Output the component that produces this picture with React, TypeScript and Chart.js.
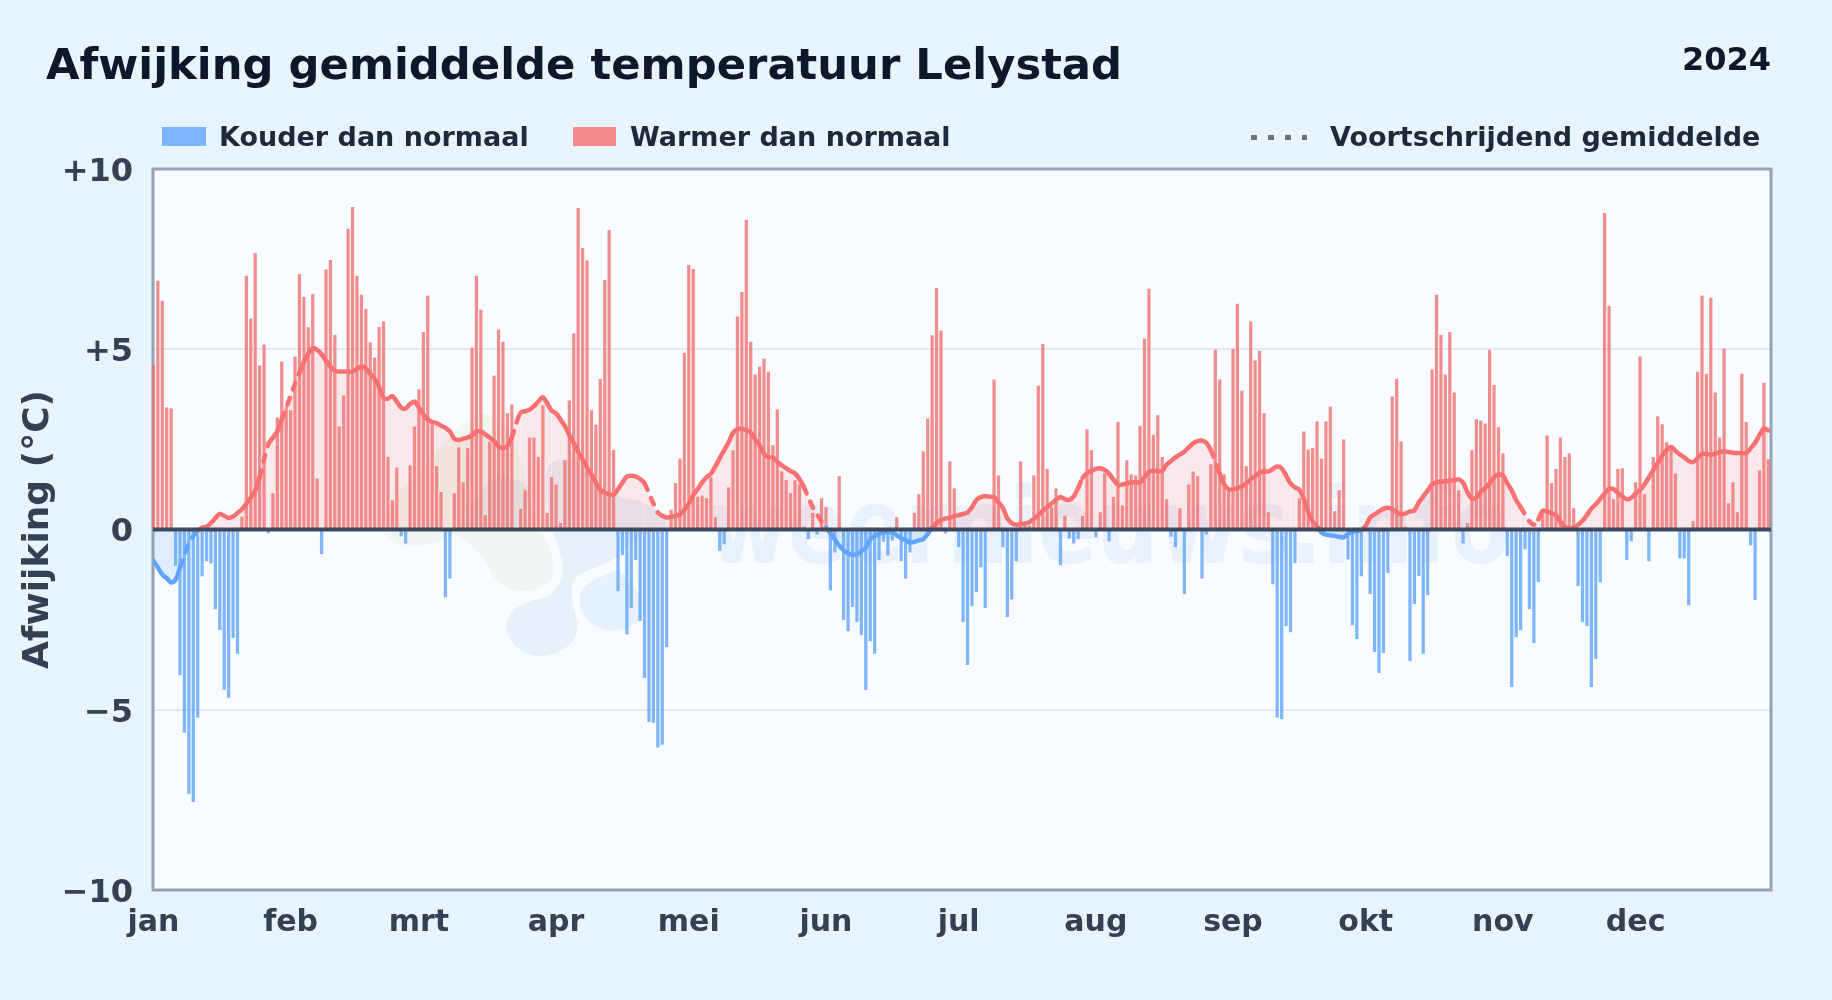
import React, { useEffect, useRef } from "react";
import { Chart, registerables } from "chart.js";

Chart.register(...registerables);

const monthNames = ["jan", "feb", "mrt", "apr", "mei", "jun", "jul", "aug", "sep", "okt", "nov", "dec"];
const monthStarts = [0, 31, 60, 91, 121, 152, 182, 213, 244, 274, 305, 335];
const yTickLabels: Record<number, string> = { [-10]: "−10", [-5]: "−5", 0: "0", 5: "+5", 10: "+10" };

const deviation = [
  4.56, 6.89, 6.34, 3.38, 3.35, -1.0, -4.03, -5.63, -7.32, -7.55,
  -5.21, -1.29, -0.87, -0.93, -2.2, -2.78, -4.44, -4.66, -3.0, -3.44,
  0.35, 7.03, 5.84, 7.66, 4.54, 5.12, -0.1, 1.0, 3.1, 4.65,
  3.4, 3.3, 4.79, 7.08, 6.44, 5.6, 6.52, 1.4, -0.67, 7.2,
  7.47, 5.39, 2.85, 3.71, 8.33, 8.94, 7.03, 6.5, 6.11, 5.18,
  4.76, 5.61, 5.76, 2.0, 0.8, 1.71, -0.18, -0.38, 1.77, 2.85,
  3.88, 5.47, 6.48, 2.9, 1.75, 1.03, -1.87, -1.35, 1.0, 2.27,
  1.3, 2.25, 5.04, 7.03, 6.09, 0.39, 2.43, 4.26, 5.53, 5.2,
  3.22, 3.46, 0, 0.56, 1.08, 2.54, 2.54, 2.0, 3.44, 0.45,
  1.44, 1.24, 0.17, 1.91, 3.57, 5.43, 8.91, 7.8, 7.45, 3.3,
  2.9, 4.17, 6.91, 8.3, 2.2, -1.7, -0.7, -2.9, -2.17, -0.84,
  -2.53, -4.11, -5.33, -5.35, -6.04, -5.96, -3.25, 0.54, 1.28, 1.96,
  4.89, 7.33, 7.22, 0.9, 0.93, 0.86, 1.44, 0.33, -0.58, -0.4,
  1.16, 2.19, 5.9, 6.58, 8.58, 5.2, 4.29, 4.51, 4.73, 4.37,
  2.33, 3.32, 1.6, 1.36, 1.0, 1.36, 1.25, 0.07, -0.26, 0.45,
  -0.13, 0.86, 0.61, -1.68, -0.63, 1.47, -2.5, -2.81, -2.14, -2.56,
  -2.92, -4.44, -3.09, -3.44, -0.84, -0.33, -0.71, -0.3, 0.33, -0.87,
  -1.35, -0.63, 0.45, 0.97, 2.16, 3.07, 5.38, 6.69, 5.51, -0.1,
  1.88, 1.13, -0.48, -2.56, -3.75, -2.12, -1.73, -1.04, -2.17, 0,
  4.15, 1.49, -0.48, -2.42, -1.93, -0.87, 1.88, 0.1, 0.1, 1.49,
  3.98, 5.14, 1.67, 0.61, 1.13, -0.98, 0.37, -0.24, -0.38, -0.26,
  0.37, 2.77, 2.19, -0.21, 0.47, 1.55, -0.32, 0.89, 2.97, 0.66,
  1.91, 1.52, 1.49, 2.87, 5.28, 6.67, 2.62, 3.16, 2.0, 0.83,
  -0.19, -0.48, 0.58, -1.78, 1.24, 1.6, 1.47, -1.35, -0.13, 1.8,
  4.98, 4.15, 1.52, 1.13, 5.0, 6.25, 3.84, 1.75, 5.76, 4.68,
  4.95, 3.22, 0.47, -1.51, -5.21, -5.25, -2.67, -2.84, -0.92, 0.86,
  2.71, 2.21, 2.25, 2.99, 1.96, 2.99, 3.4, 0.5, 1.08, 2.49,
  -0.82, -2.65, -3.03, -1.29, 0, -1.78, -3.39, -3.97, -3.42, -1.2,
  3.68, 4.17, 2.43, 0.07, -3.64, -2.06, -1.28, -3.44, -1.81, 4.43,
  6.5, 5.39, 4.29, 5.47, 3.79, 1.08, -0.38, 0.17, 2.19, 3.05,
  3.01, 2.93, 4.98, 4.0, 2.83, 2.1, -0.73, -4.36, -2.98, -2.78,
  -0.54, -2.2, -3.14, -1.45, 0.43, 2.6, 1.28, 1.67, 2.54, 2.0,
  2.1, 0.58, -1.56, -2.56, -2.67, -4.36, -3.58, -1.45, 8.77, 6.19,
  0.83, 1.67, 1.69, -0.84, -0.32, 1.3, 4.79, 0.97, -0.87, 2.0,
  3.13, 2.91, 2.41, 2.29, 1.55, -0.79, -0.79, -2.09, 0.22, 4.37,
  6.48, 4.31, 6.42, 3.79, 2.54, 5.01, 0.72, 1.3, 0.47, 4.31,
  2.97, -0.43, -1.95, 1.63, 4.06, 1.94,
];

const movingAverage = [
  -0.87, -1.05, -1.25, -1.35, -1.47, -1.4, -1.05, -0.7, -0.4, -0.18,
  -0.03, 0.05, 0.08, 0.18, 0.32, 0.43, 0.38, 0.32, 0.36, 0.46,
  0.56, 0.72, 0.88, 1.08, 1.45, 1.95, 2.38, 2.55, 2.72, 3.05,
  3.38, 3.7, 4.05, 4.35, 4.65, 4.88, 5.03, 4.98, 4.86, 4.68,
  4.52, 4.4, 4.38, 4.38, 4.38, 4.38, 4.45, 4.52, 4.47, 4.32,
  4.18, 3.95, 3.65, 3.63, 3.7, 3.55, 3.38, 3.36, 3.48, 3.55,
  3.38, 3.2, 3.05, 2.98, 2.95, 2.88, 2.82, 2.72, 2.52, 2.48,
  2.52, 2.55, 2.62, 2.72, 2.72, 2.64, 2.55, 2.45, 2.3, 2.26,
  2.32, 2.55, 2.95, 3.24, 3.28, 3.32, 3.42, 3.55, 3.67, 3.5,
  3.3, 3.22, 3.05, 2.87, 2.62, 2.4, 2.15, 1.95, 1.72, 1.52,
  1.3, 1.1, 1.02, 0.98, 0.96, 1.12, 1.3, 1.47, 1.49, 1.47,
  1.4, 1.28, 1.0, 0.72, 0.47, 0.38, 0.33, 0.35, 0.38, 0.42,
  0.55, 0.72, 0.95, 1.12, 1.3, 1.45, 1.55, 1.75, 1.98, 2.2,
  2.42, 2.68, 2.78, 2.79, 2.76, 2.69, 2.5, 2.34, 2.1, 2.0,
  2.0, 1.88, 1.78, 1.7, 1.62, 1.56, 1.4, 1.18, 0.9, 0.62,
  0.42, 0.22, 0.05, -0.1, -0.27, -0.45, -0.58, -0.66, -0.7, -0.68,
  -0.6, -0.5, -0.28, -0.18, -0.12, -0.08, -0.08, -0.08, -0.16, -0.24,
  -0.3, -0.37, -0.34, -0.3, -0.27, -0.12, 0.05, 0.18, 0.26, 0.3,
  0.33, 0.37, 0.4, 0.43, 0.47, 0.62, 0.82, 0.9, 0.92, 0.91,
  0.9, 0.75, 0.6, 0.31, 0.18, 0.13, 0.15, 0.17, 0.2, 0.3,
  0.4, 0.52, 0.62, 0.72, 0.82, 0.9, 0.84, 0.82, 0.92, 1.15,
  1.43, 1.56, 1.63, 1.68, 1.7, 1.65, 1.55, 1.38, 1.24, 1.25,
  1.28, 1.31, 1.31, 1.31, 1.45, 1.6, 1.63, 1.62, 1.62, 1.8,
  1.9, 2.0, 2.08, 2.16, 2.28, 2.39, 2.45, 2.47, 2.4, 2.2,
  1.9, 1.55, 1.25, 1.12, 1.11, 1.15, 1.2, 1.28, 1.4, 1.48,
  1.58, 1.61, 1.61, 1.68, 1.75, 1.7, 1.5, 1.28, 1.17, 1.1,
  0.85, 0.48, 0.22, 0.1, -0.08, -0.14, -0.16, -0.18, -0.2, -0.22,
  -0.12, -0.07, -0.04, -0.02, 0.1, 0.33, 0.42, 0.5, 0.57, 0.6,
  0.56, 0.48, 0.41, 0.45, 0.5, 0.53, 0.75, 0.92, 1.08, 1.25,
  1.31, 1.33, 1.33, 1.35, 1.37, 1.39, 1.3, 1.03, 0.86, 0.88,
  1.05, 1.15, 1.28, 1.45, 1.53, 1.5, 1.28, 1.08, 0.82, 0.62,
  0.42, 0.23, 0.13, 0.28, 0.52, 0.5, 0.45, 0.4, 0.22, 0.08,
  0.03, 0.05, 0.13, 0.24, 0.4, 0.58, 0.7, 0.85, 1.0, 1.13,
  1.12, 1.02, 0.92, 0.84, 0.88, 1.0, 1.1, 1.25, 1.45, 1.65,
  1.85, 2.05, 2.2, 2.29, 2.18, 2.08, 2.0, 1.9, 1.87, 1.98,
  2.09, 2.1, 2.07, 2.1, 2.15, 2.17, 2.15, 2.13, 2.12, 2.12,
  2.12, 2.25, 2.4, 2.62, 2.8, 2.75,
];

const dashedDays = [
  [6, 10], [24, 26], [29, 33], [81, 83], [89, 90], [111, 114], [147, 152],
  [209, 210], [239, 241], [256, 257], [286, 287], [309, 313], [362, 363],
];

const colder = deviation.map((v, i) => ({ x: i, y: v < 0 ? v : null }));
const warmer = deviation.map((v, i) => ({ x: i, y: v >= 0 ? v : null }));
const average = movingAverage.map((v, i) => ({ x: i, y: v }));

const RED = "#f87171";
const BLUE = "#60a5fa";
const FONT = "'DejaVu Sans', sans-serif";

const frame = {
  id: "frame",
  beforeDraw(chart: any) {
    const { ctx, chartArea: a } = chart;
    ctx.save();
    ctx.fillStyle = "#f8fbff";
    ctx.fillRect(a.left, a.top, a.right - a.left, a.bottom - a.top);
    ctx.restore();
  },
  beforeDatasetsDraw(chart: any) {
    const { ctx, chartArea: a } = chart;
    ctx.save();
    ctx.beginPath();
    ctx.rect(a.left, a.top, a.right - a.left, a.bottom - a.top);
    ctx.clip();
    // pale logo, in page pixels
    ctx.save();
    ctx.translate(370, 400);
    ctx.scale(1 / 3, 1 / 3);
    ctx.fillStyle = "rgba(190,225,150,0.12)";
    ctx.beginPath();
    ctx.moveTo(45, 405);
    ctx.bezierCurveTo(80, 450, 190, 445, 250, 405);
    ctx.bezierCurveTo(300, 420, 340, 470, 370, 530);
    ctx.bezierCurveTo(410, 585, 500, 590, 550, 530);
    ctx.bezierCurveTo(560, 480, 530, 420, 500, 370);
    ctx.bezierCurveTo(470, 250, 440, 60, 340, 40);
    ctx.bezierCurveTo(270, 50, 200, 170, 90, 270);
    ctx.bezierCurveTo(60, 320, 40, 370, 45, 405);
    ctx.fill();
    ctx.fillStyle = "rgba(100,150,210,0.1)";
    ctx.beginPath();
    ctx.moveTo(410, 680);
    ctx.bezierCurveTo(410, 620, 470, 605, 530, 590);
    ctx.bezierCurveTo(570, 570, 590, 520, 570, 460);
    ctx.bezierCurveTo(550, 400, 520, 300, 530, 210);
    ctx.bezierCurveTo(540, 170, 600, 170, 640, 200);
    ctx.bezierCurveTo(680, 260, 720, 290, 800, 300);
    ctx.bezierCurveTo(860, 320, 900, 360, 890, 390);
    ctx.bezierCurveTo(800, 400, 760, 440, 740, 470);
    ctx.bezierCurveTo(700, 500, 650, 505, 620, 530);
    ctx.bezierCurveTo(590, 570, 610, 620, 625, 670);
    ctx.bezierCurveTo(625, 730, 570, 768, 510, 768);
    ctx.bezierCurveTo(450, 768, 410, 720, 410, 680);
    ctx.fill();
    ctx.beginPath();
    ctx.moveTo(330, 290);
    ctx.bezierCurveTo(340, 220, 440, 220, 470, 260);
    ctx.bezierCurveTo(480, 300, 470, 360, 430, 385);
    ctx.lineTo(280, 385);
    ctx.bezierCurveTo(290, 340, 310, 310, 330, 290);
    ctx.fill();
    ctx.fillStyle = "rgba(130,195,250,0.16)";
    ctx.beginPath();
    ctx.moveTo(630, 590);
    ctx.bezierCurveTo(635, 550, 690, 530, 745, 510);
    ctx.bezierCurveTo(790, 540, 830, 610, 810, 660);
    ctx.bezierCurveTo(780, 690, 720, 700, 680, 680);
    ctx.bezierCurveTo(650, 665, 625, 630, 630, 590);
    ctx.fill();
    ctx.restore();
    // wordmark
    ctx.fillStyle = "rgba(80,140,220,0.09)";
    ctx.font = `bold 106px ${FONT}`;
    ctx.textAlign = "left";
    ctx.textBaseline = "alphabetic";
    ctx.fillText("weernieuws.info", 708, 563, 802);
    ctx.restore();
    // frame sits under the bars
    ctx.save();
    ctx.strokeStyle = "#94a3b8";
    ctx.lineWidth = 3;
    ctx.strokeRect(a.left, a.top, a.right - a.left, a.bottom - a.top);
    ctx.restore();
  },
  afterDatasetsDraw(chart: any) {
    const { ctx, chartArea: a, scales } = chart;
    const zero = scales.y.getPixelForValue(0);
    ctx.save();
    ctx.strokeStyle = "#3d4a5f";
    ctx.lineWidth = 4;
    ctx.beginPath();
    ctx.moveTo(a.left, zero);
    ctx.lineTo(a.right, zero);
    ctx.stroke();
    ctx.restore();
  },
};

const labelStyle: React.CSSProperties = {
  position: "absolute",
  fontFamily: FONT,
  fontWeight: 700,
  whiteSpace: "nowrap",
  lineHeight: 1,
};

export default function App() {
  const ref = useRef<HTMLCanvasElement>(null);
  useEffect(() => {
    const chart = new Chart(ref.current as HTMLCanvasElement, {
      type: "bar",
      plugins: [frame],
      data: {
        datasets: [
          {
            type: "line",
            label: "Voortschrijdend gemiddelde",
            data: average,
            order: 0,
            pointRadius: 0,
            borderWidth: 4.5,
            borderColor: RED,
            borderCapStyle: "round",
            borderJoinStyle: "round",
            tension: 0.3,
            fill: { target: { value: 0 }, above: "rgba(248,113,113,0.14)", below: "rgba(96,165,250,0.16)" },
            segment: {
              borderColor: (c: any) => (c.p0.parsed.y + c.p1.parsed.y < 0 ? BLUE : RED),
              borderDash: (c: any) =>
                dashedDays.some(([a, b]) => c.p0DataIndex >= a && c.p0DataIndex < b) ? [7, 9] : undefined,
            },
          } as any,
          {
            label: "Kouder dan normaal",
            data: colder,
            order: 1,
            backgroundColor: "rgba(96,165,250,0.8)",
            barThickness: 2.6,
            grouped: false,
          } as any,
          {
            label: "Warmer dan normaal",
            data: warmer,
            order: 1,
            clip: false,
            backgroundColor: "rgba(240,110,110,0.78)",
            barThickness: 2.6,
            grouped: false,
          } as any,
        ],
      },
      options: {
        responsive: false,
        animation: false,
        layout: { padding: { top: 169, right: 61, bottom: 0, left: 0 } },
        plugins: { legend: { display: false }, tooltip: { enabled: false } },
        scales: {
          x: {
            type: "linear",
            min: -0.1,
            max: 365.6,
            offset: false,
            grid: { display: false },
            border: { display: false },
            afterBuildTicks: (s: any) => {
              s.ticks = monthStarts.map((value) => ({ value }));
            },
            afterFit: (s: any) => {
              s.height = 110;
            },
            ticks: {
              autoSkip: false,
              maxRotation: 0,
              minRotation: 0,
              padding: 7,
              color: "#334155",
              font: { family: FONT, size: 30, weight: "bold" },
              callback: (v: any) => monthNames[monthStarts.indexOf(v)],
            },
          },
          y: {
            min: -10,
            max: 10,
            afterFit: (s: any) => {
              s.width = 153;
            },
            grid: {
              color: (c: any) => (c.tick.value === 0 || Math.abs(c.tick.value) === 10 ? "transparent" : "rgba(148,163,184,0.22)"),
              lineWidth: 2,
              drawTicks: false,
            },
            border: { display: false },
            title: {
              display: true,
              text: "Afwijking (°C)",
              color: "#334155",
              font: { family: FONT, size: 36, weight: "bold" },
              padding: { top: 17, bottom: 0 },
            },
            ticks: {
              stepSize: 5,
              padding: 20,
              color: "#334155",
              font: { family: FONT, size: 32, weight: "bold", lineHeight: 0.22 },
              callback: (v: any) => ["", yTickLabels[v]],
            },
          },
        },
      } as any,
    });
    return () => chart.destroy();
  }, []);

  return (
    <div style={{ position: "fixed", left: 0, top: 0, width: 1832, height: 1000, background: "#e8f3fc", overflow: "hidden" }}>
      <canvas ref={ref} width={1832} height={1000} style={{ position: "absolute", left: 0, top: 0 }} />
      <div style={{ ...labelStyle, left: 46, top: 43, fontSize: 43.3, color: "#0f172a" }}>Afwijking gemiddelde temperatuur Lelystad</div>
      <div style={{ ...labelStyle, right: 61, top: 43, fontSize: 32, color: "#0f172a" }}>2024</div>
      <div style={{ position: "absolute", left: 162, top: 127, width: 44, height: 19, background: "rgba(96,165,250,0.8)" }} />
      <div style={{ ...labelStyle, left: 219, top: 123, fontSize: 27, color: "#1e293b" }}>Kouder dan normaal</div>
      <div style={{ position: "absolute", left: 573, top: 127, width: 43, height: 19, background: "rgba(248,113,113,0.8)" }} />
      <div style={{ ...labelStyle, left: 630, top: 123, fontSize: 27, color: "#1e293b" }}>Warmer dan normaal</div>
      <div
        style={{
          position: "absolute",
          left: 1251,
          top: 135,
          width: 56,
          height: 5,
          background: "repeating-linear-gradient(90deg, #64748b 0 6px, transparent 6px 17px)",
        }}
      />
      <div style={{ ...labelStyle, left: 1330, top: 123, fontSize: 27, color: "#1e293b" }}>Voortschrijdend gemiddelde</div>
    </div>
  );
}
